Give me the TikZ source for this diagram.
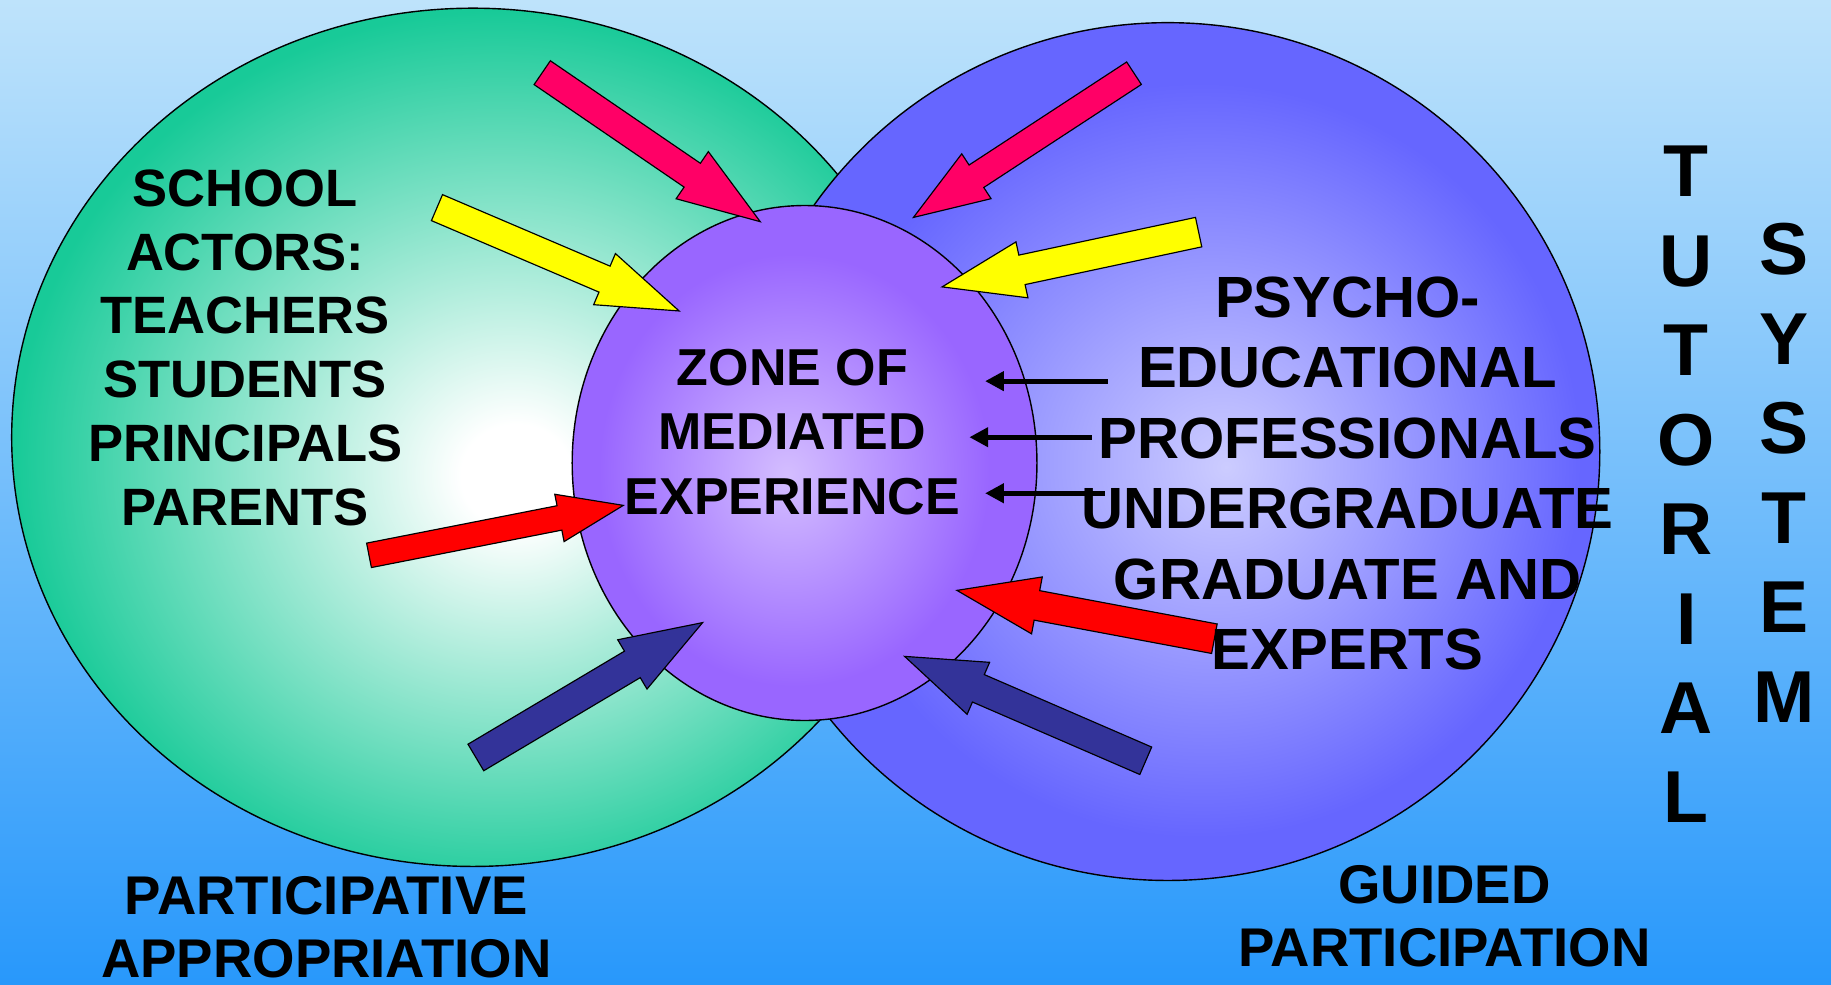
\documentclass[tikz,border=0pt]{standalone}
\usepackage{fontspec}
\setmainfont{Liberation Sans}
\usetikzlibrary{calc,shapes.arrows,arrows.meta}

\definecolor{skytop}{RGB}{190,227,251}
\definecolor{skybottom}{RGB}{40,152,251}
\definecolor{actorgreen}{RGB}{24,202,152}
\definecolor{guideblue}{RGB}{102,102,255}
\definecolor{guidelight}{RGB}{204,204,255}
\definecolor{zonepurple}{RGB}{153,102,255}
\definecolor{zonelight}{RGB}{212,190,255}
\definecolor{arrowpink}{RGB}{255,0,102}
\definecolor{arrowyellow}{RGB}{255,255,0}
\definecolor{arrowred}{RGB}{255,0,0}
\definecolor{arrownavy}{RGB}{51,51,153}

% light spots of the three discs
\pgfdeclareradialshading{actorglow}{\pgfpoint{2.5bp}{-2.4bp}}{color(0bp)=(white); color(3bp)=(white); color(26bp)=(actorgreen); color(50bp)=(actorgreen)}
\pgfdeclareradialshading{guideglow}{\pgfpoint{3.4bp}{-0.9bp}}{color(0bp)=(guidelight); color(22bp)=(guideblue); color(50bp)=(guideblue)}
\pgfdeclareradialshading{zoneglow}{\pgfpoint{-1.9bp}{-1.2bp}}{color(0bp)=(zonelight); color(21bp)=(zonepurple); color(50bp)=(zonepurple)}

\tikzset{
  discborder/.style={draw=black, line width=1.2pt},
  fatarrowbody/.style={single arrow, draw=black, line width=1pt, inner sep=0pt, anchor=tip},
  pointer/.style={line width=4.5pt, -{Triangle[length=16pt,width=16pt]}},
  textblock/.style 2 args={font=\bfseries\fontsize{#1}{#2}\selectfont, align=center, inner sep=0pt, anchor=north},
}

% name, colour, tail, tip, shaft width, head width, head length
\newcommand\fatarrow[7]{%
  \path let \p1=($(#4)-(#3)$), \n1={atan2(\y1,\x1)}, \n2={veclen(\x1,\y1)} in
    node[fatarrowbody, fill=#2, rotate=\n1, minimum height=\n2,
         inner ysep={#5*0.5pt}, single arrow head extend={(#6-#5)*0.5pt},
         single arrow tip angle={2*atan(#6*0.5/#7)}] (#1) at (#4) {};
}

\begin{document}
\begin{tikzpicture}[x=1pt,y=-1pt]
  \useasboundingbox (0,0) rectangle (1568,842.7);
  \fill[top color=skytop, bottom color=skybottom] (0,0) rectangle (1568,842.7);

  % the two worlds and the zone between them
  \path[discborder, shading=actorglow] (405,374.5) ellipse [x radius=395, y radius=367.5];
  \path[discborder, shading=guideglow] (1000,386.7) ellipse [x radius=370, y radius=367.3];
  \path[discborder, shading=zoneglow] (689,396.5) ellipse [x radius=199, y radius=220.5];

  % block arrows into the zone
  \foreach \arr/\col/\tx/\ty/\hx/\hy/\sw/\hw/\hl in {
      pinkL/arrowpink/465.6/63.1/652.3/190.7/23.7/47.9/69.1,
      yellowL/arrowyellow/375.6/178.4/583/266.9/23.2/46.6/68,
      redL/arrowred/317.4/475.3/535.2/432.5/20.3/40.3/54.4,
      navyL/arrownavy/408.8/647.9/603/532.4/25.4/48.1/68.6,
      pinkR/arrowpink/969.9/63.5/781/187/22/44.9/63,
      yellowR/arrowyellow/1025/199.1/805.3/246/24.8/48/68.5,
      redR/arrowred/1038.5/546.7/818/505.3/24.7/48.6/68.3,
      navyR/arrownavy/979.8/650.9/773.3/561.5/24.6/47.5/67.4} {
    \coordinate (\arr-tail) at (\tx,\ty);
    \coordinate (\arr-tip) at (\hx,\hy);
    \fatarrow{\arr}{\col}{\arr-tail}{\arr-tip}{\sw}{\hw}{\hl}
  }

  % thin pointers from the professionals
  \foreach \k/\xs/\xe/\yy in {1/948.6/843.6/326.4, 2/934.9/830.1/374.4, 3/946.2/843.6/422.4} {
    \coordinate (lead\k) at (\xs,\yy);
    \coordinate (aim\k) at (\xe,\yy);
    \draw[pointer] (lead\k) -- (aim\k);
  }

  \node[textblock={45}{54.6}] (actors) at (210,145) {SCHOOL\\ACTORS:\\TEACHERS\\STUDENTS\\PRINCIPALS\\PARENTS};
  \node[textblock={44.5}{55}] (zone) at (678.5,299) {ZONE OF\\MEDIATED\\EXPERIENCE};
  \node[textblock={49.8}{60.4}] (experts) at (1154,236.5) {PSYCHO-\\EDUCATIONAL\\PROFESSIONALS\\UNDERGRADUATE\\GRADUATE AND\\EXPERTS};
  \node[textblock={63}{76.6}] (tutorial) at (1444,125) {T\\U\\T\\O\\R\\I\\A\\L};
  \node[textblock={63}{76.7}] (system) at (1528,191) {S\\Y\\S\\T\\E\\M};
  \node[textblock={46.7}{54.3}] (appropriation) at (279.5,750) {PARTICIPATIVE\\APPROPRIATION};
  \node[textblock={46.7}{54.3}] (guided) at (1237,740.5) {GUIDED\\PARTICIPATION};
\end{tikzpicture}
\end{document}
